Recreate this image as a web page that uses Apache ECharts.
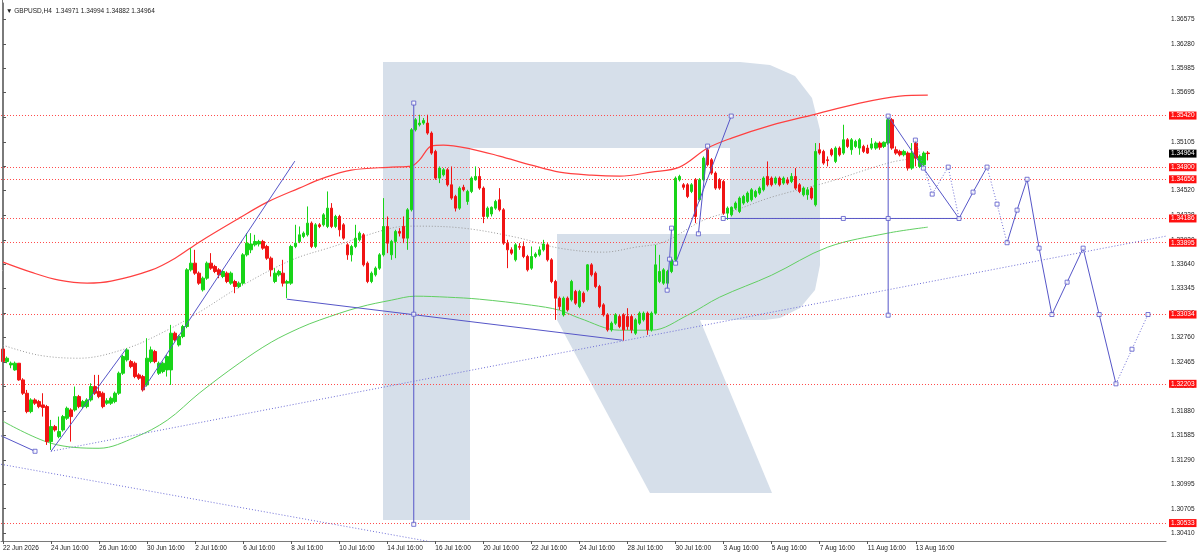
<!DOCTYPE html>
<html><head><meta charset="utf-8">
<script src="https://cdn.jsdelivr.net/npm/echarts@6.0.0/dist/echarts.min.js"></script>
<style>html,body{margin:0;padding:0;background:#fff}#c{width:1200px;height:555px}</style>
</head><body><div id="c"></div>
<script>
const symbolName = 'GBPUSD,H4';
const xTickLabels = ['22 Jun 2026','24 Jun 16:00','26 Jun 16:00','30 Jun 16:00','2 Jul 16:00','6 Jul 16:00','8 Jul 16:00','10 Jul 16:00','14 Jul 16:00','16 Jul 16:00','20 Jul 16:00','22 Jul 16:00','24 Jul 16:00','28 Jul 16:00','30 Jul 16:00','3 Aug 16:00','5 Aug 16:00','7 Aug 16:00','11 Aug 16:00','13 Aug 16:00'];
const barsPerLabel = 12;
const totalSlots = 291;
const yTicks = [1.30410,1.30705,1.30995,1.31290,1.31585,1.31880,1.32170,1.32465,1.32760,1.33050,1.33345,1.33640,1.33930,1.34228,1.34520,1.34810,1.35105,1.35400,1.35695,1.35985,1.36280,1.36575];
const levels = [1.35420,1.34800,1.34656,1.34186,1.33895,1.33034,1.32203,1.30533];
const lastPrice = 1.34964;
// [open, close, low, high]
const candles = [
[1.3262,1.3247,1.3245,1.3267],[1.3247,1.3251,1.3245,1.3253],[1.3243,1.3245,1.3239,1.3247],[1.3237,1.3245,1.3236,1.3247],
[1.3245,1.3225,1.3224,1.3245],[1.3225,1.3209,1.3207,1.3227],[1.3209,1.3187,1.3185,1.3213],[1.3187,1.3201,1.3185,1.3203],
[1.3201,1.3197,1.3195,1.3203],[1.3199,1.3193,1.3191,1.3201],[1.3195,1.3192,1.3181,1.3209],[1.3193,1.3151,1.3147,1.3195],
[1.3151,1.3169,1.3141,1.3177],[1.3169,1.3165,1.3163,1.3171],[1.3157,1.3163,1.3155,1.3181],[1.3165,1.3181,1.3163,1.3183],
[1.3179,1.3191,1.3177,1.3193],[1.3189,1.3181,1.3151,1.3191],[1.3189,1.3205,1.3187,1.3217],[1.3205,1.3193,1.3191,1.3207],
[1.3193,1.3199,1.3191,1.3201],[1.3193,1.3201,1.3191,1.3203],[1.3201,1.3217,1.3199,1.3221],[1.3217,1.3209,1.3207,1.3231],
[1.3211,1.3205,1.3203,1.3231],[1.3209,1.3193,1.3191,1.3211],[1.3197,1.3200,1.3195,1.3203],[1.3197,1.3203,1.3195,1.3205],
[1.3199,1.3209,1.3197,1.3211],[1.3209,1.3233,1.3207,1.3235],[1.3233,1.3253,1.3231,1.3255],[1.3249,1.3261,1.3247,1.3263],
[1.3247,1.3241,1.3239,1.3249],[1.3245,1.3229,1.3227,1.3247],[1.3231,1.3227,1.3225,1.3233],[1.3229,1.3213,1.3211,1.3231],
[1.3219,1.3251,1.3217,1.3275],[1.3247,1.3261,1.3245,1.3265],[1.3259,1.3247,1.3245,1.3261],[1.3233,1.3245,1.3231,1.3247],
[1.3235,1.3245,1.3233,1.3247],[1.3237,1.3253,1.3229,1.3255],[1.3237,1.3281,1.3219,1.3291],[1.3281,1.3273,1.3271,1.3283],
[1.3267,1.3277,1.3265,1.3279],[1.3277,1.3289,1.3275,1.3291],[1.3289,1.3357,1.3287,1.3359],[1.3357,1.3365,1.3355,1.3383],
[1.3365,1.3353,1.3351,1.3381],[1.3353,1.3341,1.3339,1.3355],
[1.3333,1.3347,1.3331,1.3349],[1.3347,1.3365,1.3345,1.3367],[1.3365,1.3359,1.3357,1.3377],[1.3361,1.3355,1.3353,1.3363],
[1.3357,1.3351,1.3347,1.3359],[1.3349,1.3355,1.3347,1.3357],[1.3353,1.3343,1.3341,1.3355],[1.3341,1.3353,1.3339,1.3355],
[1.3343,1.3337,1.3329,1.3345],[1.3337,1.3341,1.3335,1.3343],[1.3341,1.3375,1.3339,1.3377],[1.3375,1.3389,1.3373,1.3401],
[1.3381,1.3388,1.3377,1.3401],[1.3387,1.3391,1.3385,1.3399],[1.3388,1.3391,1.3385,1.3393],[1.3391,1.3383,1.3381,1.3393],
[1.3385,1.3371,1.3369,1.3387],[1.3371,1.3357,1.3349,1.3373],[1.3343,1.3353,1.3341,1.3359],[1.3351,1.3355,1.3349,1.3357],
[1.3353,1.3341,1.3337,1.3369],[1.3341,1.3343,1.3323,1.3345],[1.3341,1.3385,1.3339,1.3387],[1.3385,1.3389,1.3383,1.3411],
[1.3391,1.3399,1.3389,1.3409],[1.3397,1.3401,1.3395,1.3403],[1.3399,1.3413,1.3397,1.3433],[1.3413,1.3385,1.3383,1.3415],
[1.3385,1.3411,1.3383,1.3413],[1.3411,1.3409,1.3407,1.3413],[1.3411,1.3423,1.3409,1.3425],[1.3409,1.3431,1.3407,1.3451],
[1.3431,1.3409,1.3407,1.3437],[1.3409,1.3421,1.3407,1.3423],[1.3421,1.3405,1.3397,1.3423],[1.3411,1.3395,1.3393,1.3413],
[1.3387,1.3375,1.3369,1.3389],[1.3375,1.3385,1.3367,1.3387],[1.3385,1.3395,1.3383,1.3411],[1.3393,1.3401,1.3391,1.3403],
[1.3399,1.3363,1.3361,1.3401],[1.3365,1.3343,1.3341,1.3367],[1.3343,1.3353,1.3341,1.3355],[1.3351,1.3359,1.3349,1.3361],
[1.3359,1.3375,1.3357,1.3377],[1.3375,1.3409,1.3373,1.3443],[1.3409,1.3389,1.3377,1.3421],
[1.3375,1.3391,1.3369,1.3393],[1.3391,1.3403,1.3371,1.3405],[1.3403,1.3401,1.3397,1.3407],[1.3409,1.3395,1.3389,1.3421],
[1.3395,1.3429,1.3381,1.3431],[1.3429,1.3525,1.3427,1.3527],[1.3525,1.3537,1.3523,1.3539],[1.3531,1.3533,1.3529,1.3543],
[1.3533,1.3536,1.3531,1.3539],[1.3533,1.3521,1.3519,1.3543],[1.3521,1.3497,1.3495,1.3523],[1.3499,1.3467,1.3465,1.3501],
[1.3467,1.3479,1.3461,1.3481],[1.3471,1.3477,1.3469,1.3479],[1.3477,1.3459,1.3457,1.3479],[1.3459,1.3443,1.3441,1.3481],
[1.3445,1.3431,1.3427,1.3447],[1.3431,1.3455,1.3429,1.3457],[1.3456,1.3453,1.3451,1.3459],[1.3439,1.3451,1.3435,1.3453],
[1.3451,1.3467,1.3449,1.3469],[1.3465,1.3469,1.3464,1.3481],[1.3469,1.3455,1.3453,1.3479],[1.3455,1.3421,1.3413,1.3457],
[1.3421,1.3431,1.3419,1.3433],[1.3424,1.3432,1.3421,1.3433],[1.3431,1.3439,1.3429,1.3441],[1.3441,1.3429,1.3427,1.3455],
[1.3429,1.3389,1.3387,1.3431],[1.3389,1.3381,1.3359,1.3393],[1.3381,1.3377,1.3375,1.3384],[1.3369,1.3387,1.3367,1.3389],
[1.3385,1.3384,1.3381,1.3389],[1.3385,1.3373,1.3371,1.3391],[1.3373,1.3357,1.3355,1.3375],[1.3359,1.3373,1.3357,1.3385],
[1.3373,1.3376,1.3371,1.3378],[1.3375,1.3381,1.3373,1.3385],[1.3381,1.3388,1.3379,1.3393],[1.3387,1.3369,1.3367,1.3389],
[1.3369,1.3343,1.3341,1.3371],[1.3343,1.3323,1.3297,1.3345],[1.3323,1.3313,1.3309,1.3325],[1.3303,1.3323,1.3301,1.3325],
[1.3323,1.3309,1.3307,1.3325],
[1.3321,1.3343,1.3319,1.3345],[1.3331,1.3317,1.3315,1.3333],[1.3313,1.3331,1.3311,1.3333],[1.3329,1.3319,1.3317,1.3331],
[1.3333,1.3363,1.3331,1.3364],[1.3363,1.3351,1.3349,1.3365],[1.3353,1.3337,1.3335,1.3355],[1.3337,1.3313,1.3311,1.3339],
[1.3315,1.3303,1.3301,1.3317],[1.3303,1.3285,1.3283,1.3305],[1.3285,1.3293,1.3283,1.3295],[1.3293,1.3303,1.3291,1.3305],
[1.3301,1.3289,1.3287,1.3303],[1.3303,1.3285,1.3272,1.3305],[1.3301,1.3289,1.3285,1.3311],[1.3301,1.3285,1.3281,1.3303],
[1.3281,1.3297,1.3279,1.3299],[1.3293,1.3305,1.3291,1.3307],[1.3297,1.3305,1.3295,1.3307],[1.3305,1.3285,1.3279,1.3307],
[1.3285,1.3305,1.3283,1.3307],[1.3305,1.3363,1.3303,1.3387],[1.3343,1.3355,1.3341,1.3375],[1.3341,1.3357,1.3339,1.3359],
[1.3341,1.3355,1.3339,1.3357],[1.3355,1.3369,1.3353,1.3371],[1.3369,1.3467,1.3367,1.3469],[1.3465,1.3469,1.3463,1.3471],
[1.3459,1.3456,1.3453,1.3461],[1.3459,1.3445,1.3443,1.3461],[1.3451,1.3459,1.3449,1.3461],[1.3465,1.3421,1.3413,1.3467],
[1.3441,1.3465,1.3439,1.3467],[1.3465,1.3491,1.3463,1.3493],[1.3501,1.3483,1.3481,1.3505],[1.3489,1.3473,1.3471,1.3491],
[1.3473,1.3455,1.3453,1.3475],[1.3465,1.3455,1.3453,1.3467],[1.3463,1.3425,1.3423,1.3465],[1.3425,1.3431,1.3417,1.3433],
[1.3423,1.3432,1.3421,1.3433],[1.3431,1.3437,1.3429,1.3439],[1.3427,1.3443,1.3425,1.3445],[1.3437,1.3445,1.3435,1.3447],
[1.3439,1.3449,1.3437,1.3451],[1.3441,1.3453,1.3439,1.3455],[1.3445,1.3451,1.3443,1.3453],[1.3449,1.3455,1.3447,1.3457],
[1.3453,1.3467,1.3451,1.3469],[1.3469,1.3459,1.3457,1.3487],[1.3467,1.3459,1.3457,1.3469],[1.3461,1.3467,1.3459,1.3469],
[1.3467,1.3459,1.3457,1.3469],[1.3461,1.3467,1.3459,1.3469],[1.3465,1.3461,1.3459,1.3468],[1.3463,1.3469,1.3461,1.3473],
[1.3469,1.3455,1.3453,1.3479],[1.3459,1.3451,1.3449,1.3461],[1.3447,1.3455,1.3445,1.3457],[1.3447,1.3453,1.3441,1.3456],
[1.3455,1.3443,1.3441,1.3457],[1.3435,1.3499,1.3433,1.3509],[1.3501,1.3497,1.3495,1.3509],[1.3499,1.3485,1.3483,1.3501],
[1.3489,1.3488,1.3481,1.3493],[1.3501,1.3495,1.3493,1.3503],[1.3487,1.3503,1.3485,1.3505],[1.3503,1.3495,1.3493,1.3505],
[1.3497,1.3513,1.3495,1.3531],[1.3513,1.3505,1.3503,1.3515],[1.3501,1.3513,1.3495,1.3515],[1.3505,1.3511,1.3503,1.3513],
[1.3503,1.3513,1.3495,1.3515],[1.3505,1.3499,1.3497,1.3507],[1.3503,1.3497,1.3496,1.3507],[1.3503,1.3508,1.3501,1.3515],
[1.3503,1.3509,1.3501,1.3511],[1.3509,1.3504,1.3501,1.3511],[1.3505,1.3510,1.3503,1.3511],[1.3509,1.3537,1.3507,1.3539],
[1.3537,1.3503,1.3501,1.3539],[1.3501,1.3497,1.3495,1.3505],[1.3499,1.3495,1.3493,1.3501],[1.3495,1.3499,1.3493,1.3501],
[1.3497,1.3479,1.3476,1.3499],[1.3479,1.3497,1.3477,1.3509],[1.3509,1.3491,1.3481,1.3513],[1.3481,1.3493,1.3479,1.3495],
[1.3483,1.3497,1.3479,1.3499],[1.34971,1.34964,1.34882,1.34994]
];
// moving averages: [bar index, price]
const redMA = [[0,1.33662],[7,1.33542],[14,1.33446],[21,1.33410],[27,1.33434],[37,1.33566],[43,1.33710],[49,1.33902],[59,1.34190],[66,1.34382],[74,1.34550],[80,1.34670],[87,1.34766],[97,1.34802],[102,1.34814],[104,1.34886],[107,1.35054],[110,1.35066],[117,1.35018],[124,1.34934],[132,1.34826],[139,1.34742],[147,1.34706],[154,1.34694],[162,1.34742],[169,1.34802],[176,1.35030],[182,1.35150],[192,1.35306],[202,1.35426],[214,1.35570],[224,1.35654],[231,1.35666]];
const greenMA = [[0,1.31754],[12,1.31490],[24,1.31430],[33,1.31562],[41,1.31766],[49,1.32090],[59,1.32450],[67,1.32702],[74,1.32870],[79,1.32966],[89,1.33122],[97,1.33206],[103,1.33254],[111,1.33242],[119,1.33218],[132,1.33146],[139,1.33086],[144,1.32990],[154,1.32846],[162,1.32846],[171,1.33026],[179,1.33242],[192,1.33506],[206,1.33842],[221,1.34010],[231,1.34082]];
const grayMA = [[0,1.32666],[9,1.32546],[19,1.32510],[31,1.32630],[41,1.32846],[49,1.33062],[59,1.33362],[72,1.33686],[82,1.33842],[97,1.34070],[103,1.34094],[115,1.34070],[128,1.33962],[139,1.33830],[150,1.33782],[158,1.33842],[165,1.33902],[175,1.34166],[183,1.34286],[192,1.34442],[206,1.34622],[222,1.34862],[229,1.34910]];
// drawn trend lines and forecast path: [bar index, price]
const trendSolid = [
 [[-0.5,1.3158],[8.0,1.31394]],
 [[12.0,1.31394],[30.7,1.32618]],
 [[34.9,1.32126],[72.9,1.34874]],
 [[70.9,1.33218],[154.7,1.32726]],
 [[102.6,1.35570],[102.6,1.30518]],
 [[165.9,1.33326],[166.5,1.33698],[167.0,1.34070]],
 [[168.0,1.33650],[181.9,1.35414]],
 [[173.7,1.34002],[176.0,1.35054]],
 [[179.9,1.34186],[238.8,1.34186]],
 [[221.1,1.35414],[221.1,1.33026]],
 [[221.1,1.35414],[229.9,1.34790],[238.8,1.34186]],
 [[238.8,1.34186],[242.3,1.34502],[245.8,1.34802]],
 [[250.8,1.33895],[253.3,1.34286],[255.8,1.34656],[258.8,1.33830],[262.0,1.33034],[265.8,1.33422],[269.8,1.33830],[273.8,1.33034],[278.0,1.32203]]
];
const trendDotted = [
 [[12.0,1.31394],[290.5,1.33974]],
 [[-0.5,1.31238],[111.8,1.30266]],
 [[227.9,1.35126],[232.1,1.34478],[236.1,1.34802],[238.8,1.34186]],
 [[245.8,1.34802],[248.3,1.34358],[250.8,1.33895]],
 [[278.0,1.32203],[282.0,1.32618],[286.0,1.33034]]
];
const anchors = [[8.0,1.31394],[102.6,1.35570],[102.6,1.33038],[102.6,1.30518],[165.9,1.33326],[166.5,1.33698],[167.0,1.34070],[168.0,1.33650],[181.9,1.35414],[173.7,1.34002],[176.0,1.35054],[179.9,1.34186],[209.9,1.34186],[221.1,1.34186],[221.1,1.35414],[221.1,1.33026],[229.9,1.34790],[238.8,1.34186],[227.9,1.35126],[232.1,1.34478],[236.1,1.34802],[242.3,1.34502],[245.8,1.34802],[248.3,1.34358],[250.8,1.33895],[253.3,1.34286],[255.8,1.34656],[258.8,1.33830],[262.0,1.33034],[265.8,1.33422],[269.8,1.33830],[273.8,1.33034],[278.0,1.32203],[282.0,1.32618],[286.0,1.33034]];

const FONT = 'Liberation Sans';
const FS = 6.5;
const BLUE = '#5656c8';
const categories = [];
for (let i = 0; i < totalSlots; i++) {
  const k = i / barsPerLabel;
  categories.push(Number.isInteger(k) && k < xTickLabels.length ? xTickLabels[k] : '');
}
const showIdx = (idx, val) => val !== '';
const last = candles[candles.length - 1];
const header = '\u25BC ' + symbolName + '  ' + [last[0], last[3], last[2], last[1]].map(v => v.toFixed(5)).join(' ');

const lvlLabel = (bg) => ({ show: true, position: 'end', distance: 3, formatter: p => Number(p.value).toFixed(5), color: '#fff', fontSize: FS, fontFamily: FONT, backgroundColor: bg, padding: [1, 2, 0, 2], lineHeight: 7 });
const series = [];
series.push({
  type: 'candlestick', xAxisIndex: 0, yAxisIndex: 0, data: candles, barWidth: 3, z: 5,
  itemStyle: { color: '#18d418', color0: '#f01414', borderColor: '#18d418', borderColor0: '#f01414', borderWidth: 1 },
  markLine: {
    silent: true, symbol: ['none', 'none'], animation: false, precision: 5,
    data: levels.map(v => ({ yAxis: v, lineStyle: { color: '#ff4a4a', type: [1, 2], width: 1 }, label: lvlLabel('#ff1010') }))
      .concat([{ yAxis: lastPrice, lineStyle: { color: 'rgba(0,0,0,0)', width: 0 }, label: lvlLabel('#000') }])
  }
});
const maLine = (data, color, type, width) => ({
  type: 'line', xAxisIndex: 1, yAxisIndex: 0, data, smooth: 0.35, showSymbol: false, silent: true, z: 4,
  lineStyle: { color, type, width }
});
series.push(maLine(grayMA, '#9a9a9a', [1, 2], 1));
series.push(maLine(greenMA, '#62cf62', 'solid', 1));
series.push(maLine(redMA, '#ff4040', 'solid', 1.2));
trendSolid.forEach(d => series.push({ type: 'line', xAxisIndex: 1, yAxisIndex: 0, data: d, showSymbol: false, silent: true, z: 6, lineStyle: { color: BLUE, width: 1 } }));
trendDotted.forEach(d => series.push({ type: 'line', xAxisIndex: 1, yAxisIndex: 0, data: d, showSymbol: false, silent: true, z: 6, lineStyle: { color: '#6e6ed6', width: 1, type: [1, 2] } }));
series.push({ type: 'scatter', xAxisIndex: 1, yAxisIndex: 0, data: anchors, symbol: 'rect', symbolSize: 4, silent: true, z: 7,
  itemStyle: { color: '#fff', borderColor: BLUE, borderWidth: 1 } });

const WM = '#d6dfea';
const chart = echarts.init(document.getElementById('c'), null, { renderer: 'canvas' });
chart.setOption({
  animation: false,
  backgroundColor: '#fff',
  title: { text: header, left: 1, top: 3, textStyle: { fontSize: FS, fontFamily: FONT, color: '#222', fontWeight: 'normal' } },
  graphic: [
    { type: 'rect', z: -10, silent: true, shape: { x: 383, y: 62, width: 87, height: 458 }, style: { fill: WM } },
    { type: 'polygon', z: -10, silent: true, shape: { points: [[470,62],[740,62],[770,65],[795,76],[812,98],[820,130],[820,265],[815,290],[800,308],[780,318],[765,320],[557,320],[557,234],[730,234],[730,148],[470,148]] }, style: { fill: WM } },
    { type: 'polygon', z: -10, silent: true, shape: { points: [[557,320],[700,320],[772,493],[650,493]] }, style: { fill: WM } },
    { type: 'line', z: 10, silent: true, shape: { x1: 2.5, y1: 0, x2: 2.5, y2: 541 }, style: { stroke: '#7a7a7a', lineWidth: 1 } }
  ],
  grid: { left: 0, right: 34, top: 3, bottom: 14, containLabel: false },
  xAxis: [
    { type: 'category', data: categories, boundaryGap: true,
      axisLine: { show: true, lineStyle: { color: '#7a7a7a', width: 1 } },
      axisTick: { show: true, alignWithLabel: true, interval: showIdx, length: 3, lineStyle: { color: '#555' } },
      axisLabel: { show: true, interval: showIdx, align: 'left', margin: 4, fontSize: FS, fontFamily: FONT, color: '#222', hideOverlap: false },
      splitLine: { show: false } },
    { type: 'value', min: -0.5, max: totalSlots - 0.5, show: false }
  ],
  yAxis: [{
    type: 'value', position: 'right', min: 1.30318, max: 1.36770, scale: true,
    axisLine: { show: true, lineStyle: { color: '#7a7a7a', width: 1 } },
    axisTick: { show: true, length: 3, customValues: yTicks, lineStyle: { color: '#555' } },
    axisLabel: { show: true, customValues: yTicks, formatter: v => v.toFixed(5), fontSize: FS, fontFamily: FONT, color: '#222', margin: 5, showMinLabel: true, showMaxLabel: true },
    splitLine: { show: false }
  }],
  series
});
</script></body></html>
